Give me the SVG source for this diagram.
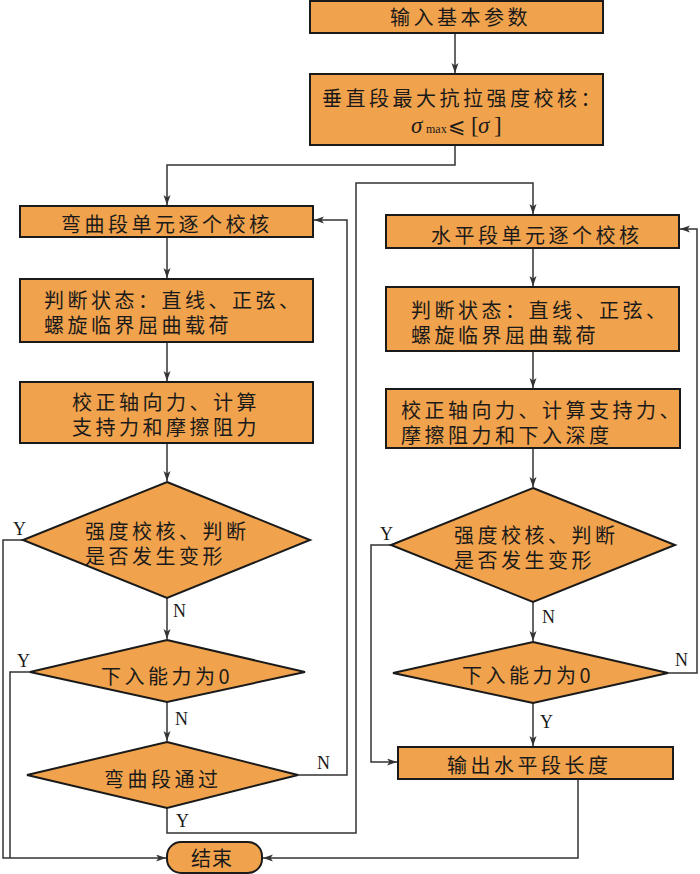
<svg xmlns="http://www.w3.org/2000/svg" width="700" height="874" viewBox="0 0 700 874">
<style>
.box{fill:#F1A24C;stroke:#1a1a1a;stroke-width:2}
.t{font-family:"Noto Sans CJK SC","Noto Sans",sans-serif;font-size:20px;letter-spacing:3.5px;fill:#1a1a1a}
.yn{font-family:"Liberation Serif","Times New Roman",serif;font-size:18px;fill:#1a1a1a}
.c{fill:none;stroke:#333;stroke-width:1.5}
.m{font-family:"Liberation Serif","DejaVu Serif",serif;fill:#1a1a1a}
</style>
<defs>
<marker id="ah" markerUnits="userSpaceOnUse" markerWidth="12" markerHeight="8" refX="10" refY="3.5" orient="auto">
<path d="M0,0 L10,3.5 L0,7 L2.5,3.5 z" fill="#333"/>
</marker>
</defs>
<rect width="700" height="874" fill="#fff"/>
<g id="connectors">
<path class="c" d="M455,33 V73" marker-end="url(#ah)"/>
<path class="c" d="M455,145 V165 H167 V205" marker-end="url(#ah)"/>
<path class="c" d="M167,237 V278" marker-end="url(#ah)"/>
<path class="c" d="M167,342 V381" marker-end="url(#ah)"/>
<path class="c" d="M167,443 V481" marker-end="url(#ah)"/>
<path class="c" d="M167,598 V639" marker-end="url(#ah)"/>
<path class="c" d="M23,540 H3 V858 H166" marker-end="url(#ah)"/>
<path class="c" d="M30,672 H10 V858"/>
<path class="c" d="M167,702 V741" marker-end="url(#ah)"/>
<path class="c" d="M298,775 H347 V220 H314" marker-end="url(#ah)"/>
<path class="c" d="M167,808 V833 H356 V183 H533 V214" marker-end="url(#ah)"/>
<path class="c" d="M533,248 V286" marker-end="url(#ah)"/>
<path class="c" d="M533,351 V388" marker-end="url(#ah)"/>
<path class="c" d="M533,448 V487" marker-end="url(#ah)"/>
<path class="c" d="M391,545 H371 V762 H397" marker-end="url(#ah)"/>
<path class="c" d="M533,602 V641" marker-end="url(#ah)"/>
<path class="c" d="M668,673 H697 V229 H680" marker-end="url(#ah)"/>
<path class="c" d="M533,703 V746" marker-end="url(#ah)"/>
<path class="c" d="M578,779 V858 H263" marker-end="url(#ah)"/>
</g>
<g id="labels">
<text class="yn" x="173" y="617">N</text>
<text class="yn" x="13" y="535">Y</text>
<text class="yn" x="17" y="667">Y</text>
<text class="yn" x="175" y="725">N</text>
<text class="yn" x="317" y="769">N</text>
<text class="yn" x="176" y="827">Y</text>
<text class="yn" x="380" y="540">Y</text>
<text class="yn" x="542" y="623">N</text>
<text class="yn" x="675" y="666">N</text>
<text class="yn" x="540" y="728">Y</text>
</g>
<g id="n_input">
<rect class="box" x="310" y="1" width="293" height="32"/>
<text class="t" x="390" y="25">输入基本参数</text>
</g>
<g id="n_vertical">
<rect class="box" x="310" y="74" width="293" height="71"/>
<text class="t" x="322" y="105.5">垂直段最大抗拉强度校核：</text>
<text class="m" y="133"><tspan x="411" font-size="23" font-style="italic">σ</tspan><tspan x="426" font-size="12">max</tspan><tspan x="448" font-size="21" font-family="DejaVu Sans, sans-serif">⩽</tspan><tspan x="471" font-size="23">[</tspan><tspan x="478" font-size="23" font-style="italic">σ</tspan><tspan x="494" font-size="23">]</tspan></text>
</g>
<g id="n_bend_unit">
<rect class="box" x="20" y="206" width="293" height="31"/>
<text class="t" x="61" y="231.5">弯曲段单元逐个校核</text>
</g>
<g id="n_bend_state">
<rect class="box" x="20" y="279" width="293" height="63"/>
<text class="t" x="44" y="307.5">判断状态：直线、正弦、</text>
<text class="t" x="44" y="332.5">螺旋临界屈曲载荷</text>
</g>
<g id="n_bend_force">
<rect class="box" x="20" y="382" width="293" height="61"/>
<text class="t" x="72" y="409.5">校正轴向力、计算</text>
<text class="t" x="72" y="434.5">支持力和摩擦阻力</text>
</g>
<g id="n_bend_strength">
<polygon class="box" points="167,482 310,540 167,598 23,540"/>
<text class="t" x="85" y="538.5">强度校核、判断</text>
<text class="t" x="85" y="563.5">是否发生变形</text>
</g>
<g id="n_bend_zero">
<polygon class="box" points="167,640 305,672 167,702 30,672"/>
<text class="t" x="101" y="683.5">下入能力为0</text>
</g>
<g id="n_bend_pass">
<polygon class="box" points="167,742 298,775 167,808 27,775"/>
<text class="t" x="104" y="786.5">弯曲段通过</text>
</g>
<g id="n_end">
<rect class="box" x="167" y="842" width="95" height="31" rx="14"/>
<text class="t" x="191" y="865.5" style="letter-spacing:1px">结束</text>
</g>
<g id="n_hor_unit">
<rect class="box" x="386" y="215" width="293" height="33"/>
<text class="t" x="431" y="242.5">水平段单元逐个校核</text>
</g>
<g id="n_hor_state">
<rect class="box" x="386" y="287" width="293" height="64"/>
<text class="t" x="411" y="317.5">判断状态：直线、正弦、</text>
<text class="t" x="411" y="342.5">螺旋临界屈曲载荷</text>
</g>
<g id="n_hor_force">
<rect class="box" x="386" y="389" width="294" height="59"/>
<text class="t" x="401" y="417.5">校正轴向力、计算支持力、</text>
<text class="t" x="401" y="442.5">摩擦阻力和下入深度</text>
</g>
<g id="n_hor_strength">
<polygon class="box" points="533,488 675,545 533,602 391,545"/>
<text class="t" x="454" y="542.5">强度校核、判断</text>
<text class="t" x="454" y="567.5">是否发生变形</text>
</g>
<g id="n_hor_zero">
<polygon class="box" points="533,642 668,673 533,703 393,673"/>
<text class="t" x="462" y="683">下入能力为0</text>
</g>
<g id="n_output">
<rect class="box" x="398" y="747" width="275" height="32"/>
<text class="t" x="447" y="772.5">输出水平段长度</text>
</g>
</svg>
